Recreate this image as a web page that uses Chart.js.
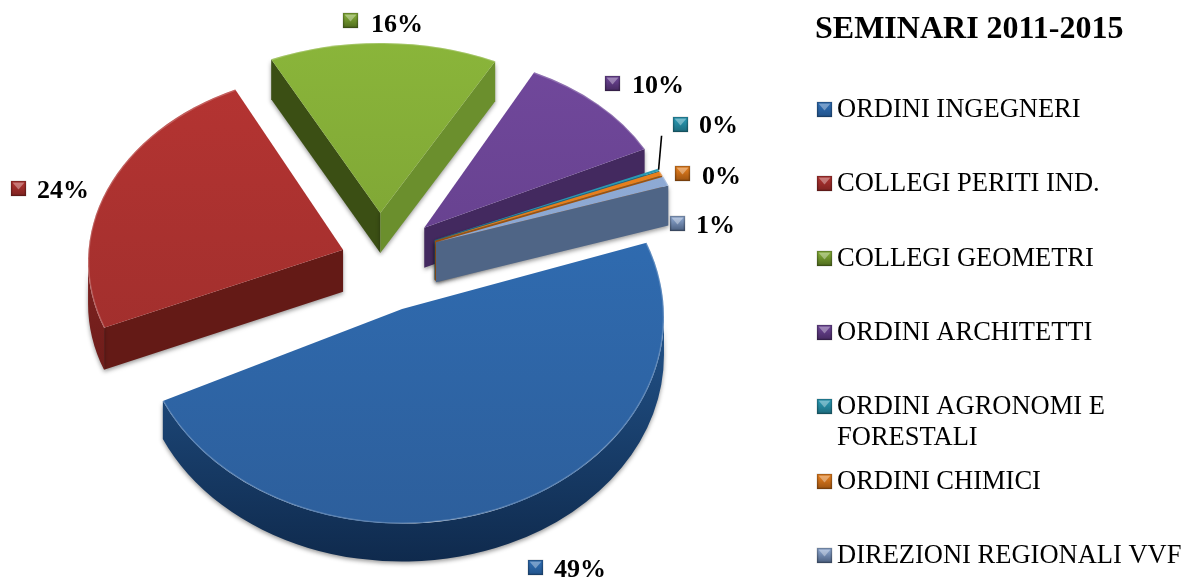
<!DOCTYPE html>
<html>
<head>
<meta charset="utf-8">
<title>SEMINARI 2011-2015</title>
<script src="https://cdn.jsdelivr.net/npm/chart.js@4/dist/chart.umd.min.js"></script>
<style>
  html, body { margin: 0; background: #fff; }
  canvas { display: block; }
</style>
</head>
<body>
<canvas id="pie" width="1184" height="579"></canvas>
<script>
const chartTitle = "SEMINARI 2011-2015";
const categories = [
  "ORDINI INGEGNERI",
  "COLLEGI PERITI IND.",
  "COLLEGI GEOMETRI",
  "ORDINI ARCHITETTI",
  ["ORDINI AGRONOMI E", "FORESTALI"],
  "ORDINI CHIMICI",
  "DIREZIONI REGIONALI VVF",
];
const shares = [48.6, 24.3, 15.6, 10.0, 0.2, 0.4, 0.9];

// colori: faccia chiara/scura, parete
const faceLight = ["#3070b8", "#b53432", "#8ab53a", "#71489c", "#2a9fba", "#ee8420", "#93aed8"];
const faceDark = ["#2d5f9c", "#9a2d2b", "#779b32", "#5f3d85", "#258ba3", "#dc7416", "#83a0cc"];
const wallLight = ["#22538a", "#7d2220", "#3b4f14", "#45295f", "#1d6a7c", "#9c5210", "#4a5e7e"];
const wallDark = ["#0f2a4d", "#5e1714", "#3b4f14", "#3f2658", "#1d6a7c", "#9c5210", "#5c789f"];
const sideWall = ["#22538a", "#641a16", "#6b8f2d", "#43295f", "#1d6a7c", "#9c5210", "#4f6586"];

// esplosione e schiacciamento di ogni fetta
const explode = [107, 39, 36, 50, 62, 62, 62];
const nudgeX = [-20, 0, 0, 9, 0, 0, 0];
const nudgeY = [0, 34, 0, 14, 20, 20, 20];
const scaleX = [1.027, 1.0, 1.0, 0.97, 0.97, 0.97, 0.97];
const scaleY = [0.81, 0.745, 0.667, 0.68, 0.65, 0.65, 0.65];
const depth = [38, 42, 40, 40, 40, 40, 40];
// correzione di prospettiva sugli angoli (gradi, fattore)
const turn = [0, 3.6, 0.2, -1.9, 0, 0, 0];
const spread = [1.012, 0.976, 0.928, 1.017, 1, 1, 1];
const apexLift = [8, 12, 0, 0, 0, 0, 0];
const drawOrder = [2, 3, 1, 4, 5, 6, 0];

// posizione etichette: quadratino x, y, testo x, baseline
const labelMarkX = [528, 11, 343, 605, 673, 675, 670];
const labelMarkY = [560, 181, 13, 76, 117, 166, 216];
const labelTextX = [554, 37, 371, 632, 699, 702, 696];
const labelBase = [577, 198, 32, 93, 133, 184, 233];

// baseline delle voci di legenda
const legendBase = [117, 191, 266, 340, 414, 489, 563];
const legendLineGap = 31;

function bevel(ctx, x, y, s, i) {
  ctx.save();
  const g = ctx.createLinearGradient(0, y, 0, y + s);
  g.addColorStop(0, faceLight[i]);
  g.addColorStop(1, i === 2 ? "#4e6a1d" : wallLight[i]);
  ctx.fillStyle = g;
  ctx.fillRect(x, y, s, s);
  ctx.fillStyle = "rgba(255,255,255,0.35)";
  ctx.beginPath();
  ctx.moveTo(x + 1.5, y + 1.5);
  ctx.lineTo(x + s - 1.5, y + 1.5);
  ctx.lineTo(x + s / 2, y + s / 2 + 1);
  ctx.closePath();
  ctx.fill();
  ctx.strokeStyle = "rgba(0,0,0,0.25)";
  ctx.strokeRect(x + 0.5, y + 0.5, s - 1, s - 1);
  ctx.restore();
}

function geometry(arc, i) {
  const mid = (arc.startAngle + arc.endAngle) / 2;
  const cx = arc.x + Math.cos(mid) * explode[i] * scaleX[i] + nudgeX[i];
  const cy = arc.y + Math.sin(mid) * explode[i] * scaleY[i] + nudgeY[i];
  const rx = arc.outerRadius * scaleX[i];
  const ry = arc.outerRadius * scaleY[i];
  const pt = (a, dy = 0) => [cx + Math.cos(a) * rx, cy + Math.sin(a) * ry + dy];
  const t = (turn[i] * Math.PI) / 180;
  const start = mid + (arc.startAngle - mid) * spread[i] + t;
  const end = mid + (arc.endAngle - mid) * spread[i] + t;
  return { cx, cy, rx, ry, pt, start, end, apexY: cy - apexLift[i] };
}

function edgeWall(ctx, g, a, d, color) {
  const p = g.pt(a);
  ctx.fillStyle = color;
  ctx.beginPath();
  ctx.moveTo(g.cx, g.apexY);
  ctx.lineTo(p[0], p[1]);
  ctx.lineTo(p[0], p[1] + d);
  ctx.lineTo(g.cx, g.apexY + d);
  ctx.closePath();
  ctx.fill();
}

function drawSlice(ctx, arc, i) {
  const g = geometry(arc, i);
  const d = depth[i];
  ctx.save();
  ctx.shadowColor = "rgba(0,0,0,0.4)";
  ctx.shadowBlur = 4;
  ctx.shadowOffsetY = 2;
  // pareti dritte, solo quelle rivolte verso chi guarda
  if (Math.cos(g.start) < 0) edgeWall(ctx, g, g.start, d, i === 2 ? wallLight[i] : sideWall[i]);
  if (Math.cos(g.end) > 0) edgeWall(ctx, g, g.end, d, sideWall[i]);
  // parete curva
  const from = Math.max(g.start, 0);
  const to = Math.min(g.end, Math.PI);
  if (to > from) {
    const wall = ctx.createLinearGradient(0, g.cy, 0, g.cy + g.ry + d);
    wall.addColorStop(0, wallLight[i]);
    wall.addColorStop(1, wallDark[i]);
    ctx.fillStyle = wall;
    ctx.beginPath();
    ctx.ellipse(g.cx, g.cy, g.rx, g.ry, 0, from, to);
    ctx.ellipse(g.cx, g.cy + d, g.rx, g.ry, 0, to, from, true);
    ctx.closePath();
    ctx.fill();
  }
  ctx.restore();

  // faccia superiore
  const face = ctx.createLinearGradient(0, g.cy - g.ry, 0, g.cy + g.ry);
  face.addColorStop(0, faceLight[i]);
  face.addColorStop(1, faceDark[i]);
  ctx.fillStyle = face;
  ctx.beginPath();
  ctx.moveTo(g.cx, g.apexY);
  ctx.ellipse(g.cx, g.cy, g.rx, g.ry, 0, g.start, g.end);
  ctx.closePath();
  ctx.fill();

  // filo di luce sul bordo
  ctx.strokeStyle = "rgba(255,255,255,0.22)";
  ctx.lineWidth = 1.2;
  ctx.beginPath();
  ctx.ellipse(g.cx, g.cy, g.rx - 0.6, g.ry - 0.6, 0, g.start, g.end);
  ctx.stroke();
}

const pie3d = {
  id: "pie3d",
  // le fette le disegno io, schiacciate e con lo spessore
  beforeDatasetsDraw(chart) {
    const ctx = chart.ctx;
    const arcs = chart.getDatasetMeta(0).data;
    drawOrder.forEach((i) => drawSlice(ctx, arcs[i], i));

    // linea guida per ORDINI AGRONOMI
    const g = geometry(arcs[4], 4);
    const tip = g.pt((g.start + g.end) / 2);
    ctx.strokeStyle = "#000";
    ctx.lineWidth = 1.6;
    ctx.beginPath();
    ctx.moveTo(tip[0] + 3, tip[1] - 34);
    ctx.lineTo(tip[0], tip[1]);
    ctx.stroke();
    return false;
  },
  afterDraw(chart) {
    const ctx = chart.ctx;
    const total = shares.reduce((a, b) => a + b, 0);
    ctx.save();
    ctx.textBaseline = "alphabetic";
    ctx.fillStyle = "#000";

    ctx.font = "bold 26px 'Liberation Serif'";
    shares.forEach((v, i) => {
      bevel(ctx, labelMarkX[i], labelMarkY[i], 15, i);
      ctx.fillStyle = "#000";
      ctx.fillText(Math.round((v / total) * 100) + "%", labelTextX[i], labelBase[i]);
    });

    ctx.font = "bold 32px 'Liberation Serif'";
    ctx.fillText(chartTitle, 815, 38);

    ctx.font = "26.5px 'Liberation Serif'";
    categories.forEach((name, i) => {
      bevel(ctx, 817, legendBase[i] - 15, 15, i);
      ctx.fillStyle = "#000";
      [].concat(name).forEach((line, k) => {
        ctx.fillText(line, 837, legendBase[i] + k * legendLineGap);
      });
    });
    ctx.restore();
  },
};

new Chart(document.getElementById("pie"), {
  type: "pie",
  data: {
    labels: categories.map((c) => [].concat(c).join(" ")),
    datasets: [{ data: shares, backgroundColor: faceLight, borderWidth: 0 }],
  },
  options: {
    responsive: false,
    animation: false,
    rotation: 70,
    radius: 255,
    layout: { padding: { right: 424, bottom: 105 } },
    plugins: { legend: { display: false }, tooltip: { enabled: false } },
    events: [],
  },
  plugins: [pie3d],
});
</script>
</body>
</html>
